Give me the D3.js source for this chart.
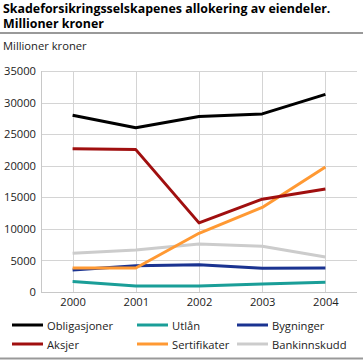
<!DOCTYPE html>
<html><head><meta charset="utf-8">
<script src="https://cdn.jsdelivr.net/npm/d3@7"></script>
<style>body{margin:0;background:#fff}svg{display:block}text{font-family:"Open Sans",sans-serif}</style>
</head><body><svg id="c" width="363" height="361"></svg>
<script>
const years = ["2000","2001","2002","2003","2004"];
const yTicks = [0,5000,10000,15000,20000,25000,30000,35000];
const seriesNames = ["Obligasjoner","Utlån","Bygninger","Aksjer","Sertifikater","Bankinnskudd"];
const seriesColors = ["#000000","#1a9e98","#1a3391","#a00f0f","#ff9933","#cccccc"];
const obligasjoner = [28000,26000,27800,28200,31300];
const utlan = [1650,950,950,1270,1530];
const bygninger = [3500,4150,4300,3750,3800];
const aksjer = [22700,22550,10950,14700,16300];
const sertifikater = [3800,3800,9300,13400,19800];
const bankinnskudd = [6150,6650,7600,7250,5550];
const seriesValues = [obligasjoner,utlan,bygninger,aksjer,sertifikater,bankinnskudd];
const drawOrder = [5,1,2,4,3,0];

const svg = d3.select("#c");
svg.append("text").attr("x",3).attr("y",13).attr("font-size",12.4).attr("font-weight","bold").text("Skadeforsikringsselskapenes allokering av eiendeler.");
svg.append("text").attr("x",3).attr("y",28).attr("font-size",12.4).attr("font-weight","bold").text("Millioner kroner");
svg.append("line").attr("x1",0).attr("x2",363).attr("y1",33).attr("y2",33).attr("stroke","#999").attr("stroke-width",2);
svg.append("text").attr("x",3).attr("y",50).attr("font-size",11.2).attr("fill","#222").text("Millioner kroner");

const L=41,R=357,T=71,B=292;
const x = d3.scalePoint().domain(years).range([L,R]).padding(0.5);
const y = d3.scaleLinear().domain([0,35000]).range([B,T]);

const g = svg.append("g");
g.selectAll(".hg").data(yTicks).join("line").attr("x1",L).attr("x2",R).attr("y1",d=>Math.round(y(d))+0.5).attr("y2",d=>Math.round(y(d))+0.5).attr("stroke","#d4d4d4");
g.selectAll(".vg").data(years).join("line").attr("x1",d=>Math.round(x(d))+0.5).attr("x2",d=>Math.round(x(d))+0.5).attr("y1",T).attr("y2",B).attr("stroke","#d4d4d4");
g.append("line").attr("x1",L+0.5).attr("x2",L+0.5).attr("y1",T).attr("y2",B).attr("stroke","#c8c8c8");
g.append("line").attr("x1",L).attr("x2",R).attr("y1",B+0.5).attr("y2",B+0.5).attr("stroke","#c8c8c8");

const yAxis = d3.axisLeft(y).tickValues(yTicks).tickSize(0).tickPadding(5).tickFormat(d3.format("d"));
const ya = svg.append("g").attr("transform",`translate(${L},0)`).call(yAxis);
ya.select(".domain").remove();
ya.selectAll("text").attr("font-size",11.2).attr("fill","#222").attr("font-family","Open Sans, sans-serif");
const xAxis = d3.axisBottom(x).tickSize(0).tickPadding(6);
const xa = svg.append("g").attr("transform",`translate(0,${B})`).call(xAxis);
xa.select(".domain").remove();
xa.selectAll("text").attr("font-size",11.2).attr("fill","#222").attr("font-family","Open Sans, sans-serif");

const line = d3.line().x((d,i)=>x(years[i])).y(d=>y(d));
drawOrder.forEach(k=>{
  svg.append("path").attr("d",line(seriesValues[k])).attr("fill","none").attr("stroke",seriesColors[k]).attr("stroke-width",3).attr("stroke-linejoin","round");
});

const colX=[12,137,237], rowY=[325,344];
seriesNames.forEach((n,i)=>{
  const cx=colX[i%3], cy=rowY[Math.floor(i/3)];
  svg.append("line").attr("x1",cx).attr("x2",cx+31).attr("y1",cy).attr("y2",cy).attr("stroke",seriesColors[i]).attr("stroke-width",3);
  svg.append("text").attr("x",cx+35).attr("y",cy+4.5).attr("font-size",11.2).attr("fill","#222").text(n);
});
svg.append("line").attr("x1",0).attr("x2",363).attr("y1",358.5).attr("y2",358.5).attr("stroke","#999").attr("stroke-width",2);
</script></body></html>
